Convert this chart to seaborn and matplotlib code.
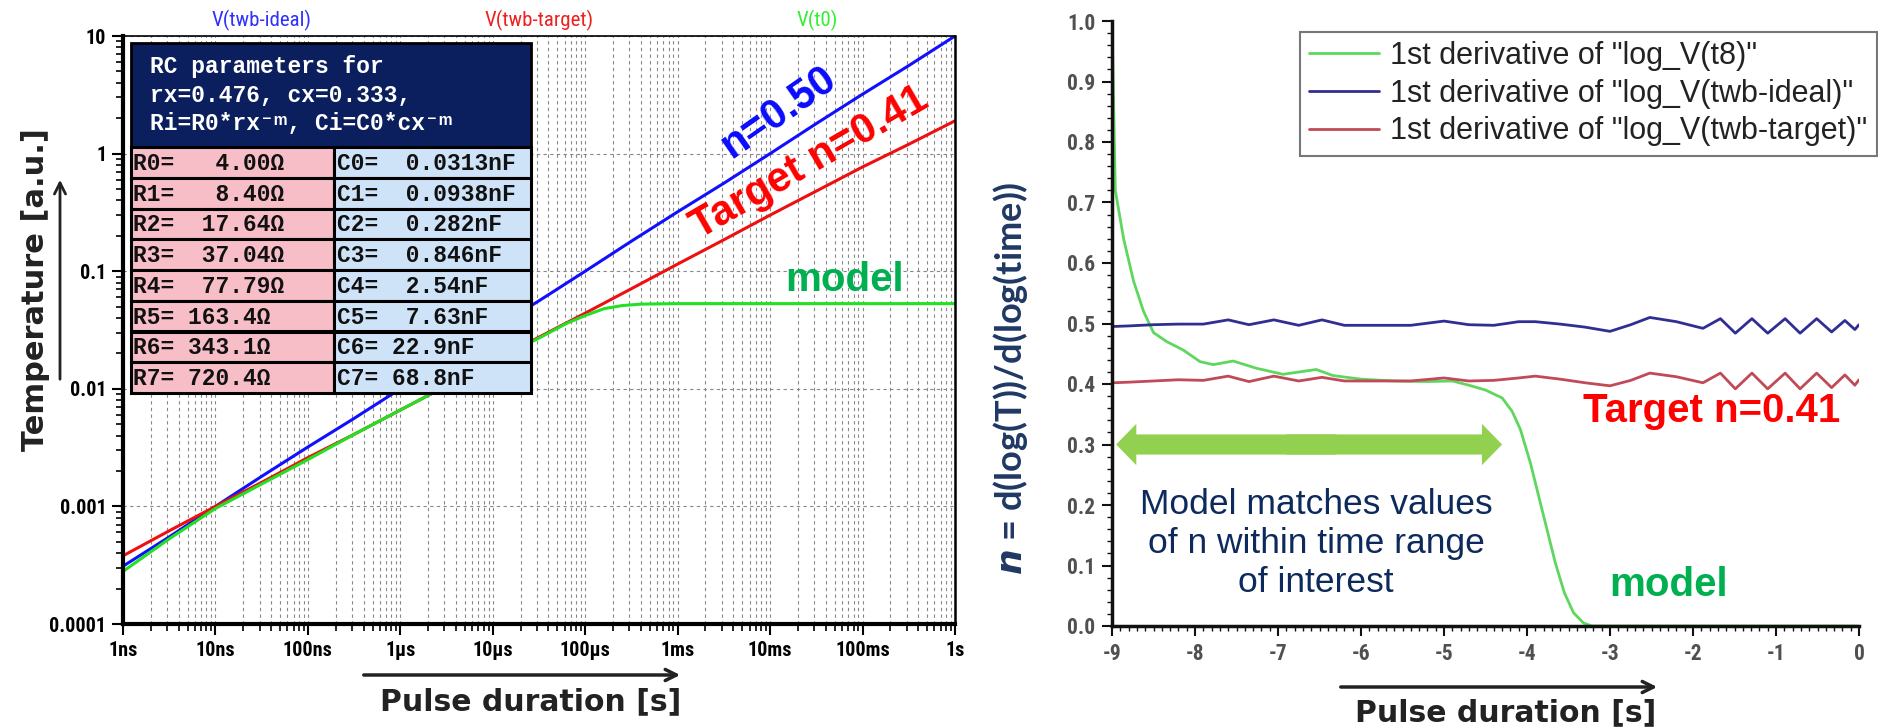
import numpy as np
import pandas as pd
import matplotlib
matplotlib.use("Agg")
import matplotlib.pyplot as plt
import seaborn as sns
from matplotlib.patches import Rectangle, FancyArrowPatch
from matplotlib.ticker import LogLocator, MultipleLocator, NullFormatter
from matplotlib import font_manager

# ---- left panel: simulated temperature vs pulse duration ----
t_left = [1e-9, 3.16e-9, 1e-8, 3.16e-8, 1e-7, 3.16e-7, 1e-6, 3.16e-6, 1e-5, 3.16e-5,
          1e-4, 3.16e-4, 1e-3, 3.16e-3, 1e-2, 3.16e-2, 0.1, 0.316, 1.0]
v_ideal = [3.1e-4, 5.5e-4, 1.0e-3, 1.8e-3, 3.2e-3, 5.6e-3, 1.0e-2, 1.8e-2, 3.2e-2, 5.6e-2,
           0.1, 0.18, 0.32, 0.56, 1.0, 1.8, 3.2, 5.6, 10.0]
v_target = [3.8e-4, 6.2e-4, 1.0e-3, 1.6e-3, 2.6e-3, 4.1e-3, 6.6e-3, 1.06e-2, 1.7e-2, 2.75e-2,
            4.4e-2, 7.1e-2, 0.115, 0.185, 0.30, 0.48, 0.77, 1.2, 1.9]
t_model = [1e-9, 1e-9, 3.16e-9, 1e-8, 3.16e-8, 1e-7, 3.16e-7, 1e-6, 3.16e-6, 1e-5, 3.16e-5,
           6.3e-5, 1e-4, 1.6e-4, 2.5e-4, 4e-4, 1e-3, 1.0]
v_model = [1e-4, 2.8e-4, 5.3e-4, 9.6e-4, 1.55e-3, 2.5e-3, 4.1e-3, 6.6e-3, 1.06e-2, 1.7e-2, 2.7e-2,
           3.6e-2, 4.2e-2, 4.8e-2, 5.1e-2, 5.25e-2, 5.3e-2, 5.3e-2]

x_ticks = [1e-9, 1e-8, 1e-7, 1e-6, 1e-5, 1e-4, 1e-3, 1e-2, 1e-1, 1.0]
x_ticklabels = ["1ns", "10ns", "100ns", "1µs", "10µs", "100µs", "1ms", "10ms", "100ms", "1s"]
y_ticks = [1e-4, 1e-3, 1e-2, 1e-1, 1.0, 10.0]
y_ticklabels = ["0.0001", "0.001", "0.01", "0.1", "1", "10"]

r_names = ["R0", "R1", "R2", "R3", "R4", "R5", "R6", "R7"]
r_values = ["  4.00Ω", "  8.40Ω", " 17.64Ω", " 37.04Ω", " 77.79Ω", "163.4Ω", "343.1Ω", "720.4Ω"]
c_names = ["C0", "C1", "C2", "C3", "C4", "C5", "C6", "C7"]
c_values = [" 0.0313nF", " 0.0938nF", " 0.282nF", " 0.846nF", " 2.54nF", " 7.63nF", "22.9nF", "68.8nF"]
header_lines = ["RC parameters for", "rx=0.476, cx=0.333,", "Ri=R0*rx⁻ᵐ, Ci=C0*cx⁻ᵐ"]

# ---- right panel: log derivative n ----
x_model = [-9.0, -8.96, -8.86, -8.74, -8.62, -8.5, -8.34, -8.14, -7.94, -7.78, -7.54, -7.26,
           -6.94, -6.54, -6.34, -6.0, -5.6, -5.2, -4.9, -4.7, -4.5, -4.3, -4.18, -4.08, -3.96,
           -3.86, -3.76, -3.66, -3.55, -3.44, -3.32, -3.22, 0.0]
n_model = [1.0, 0.72, 0.64, 0.57, 0.52, 0.485, 0.47, 0.456, 0.437, 0.432, 0.438, 0.426,
           0.416, 0.424, 0.414, 0.408, 0.405, 0.404, 0.405, 0.398, 0.39, 0.377, 0.355, 0.325, 0.27,
           0.215, 0.16, 0.105, 0.055, 0.022, 0.005, 0.0, 0.0]
x_ref = [-9.0, -9.0, -8.8, -8.5, -8.2, -7.9, -7.6, -7.35, -7.05, -6.75, -6.47, -6.2, -5.8, -5.4,
         -5.0, -4.7, -4.4, -4.1, -3.9, -3.6, -3.3, -3.0, -2.75, -2.52, -2.2, -1.88, -1.67, -1.49,
         -1.29, -1.10, -0.89, -0.71, -0.51, -0.33, -0.17, -0.05, 0.0]
n_ideal = [0.745, 0.495, 0.496, 0.498, 0.499, 0.499, 0.506, 0.498, 0.506, 0.497, 0.506, 0.497,
           0.497, 0.497, 0.504, 0.498, 0.497, 0.503, 0.503, 0.499, 0.494, 0.487, 0.498, 0.510,
           0.503, 0.492, 0.508, 0.484, 0.508, 0.484, 0.508, 0.484, 0.508, 0.486, 0.505, 0.490, 0.498]
n_target = [0.71, 0.402, 0.403, 0.405, 0.407, 0.406, 0.413, 0.404, 0.413, 0.405, 0.411, 0.405,
            0.405, 0.405, 0.41, 0.405, 0.406, 0.41, 0.413, 0.408, 0.402, 0.397, 0.406, 0.418,
            0.412, 0.402, 0.418, 0.392, 0.418, 0.392, 0.418, 0.392, 0.418, 0.394, 0.415, 0.398, 0.407]
legend_labels = ['1st derivative of "log_V(t8)"', '1st derivative of "log_V(twb-ideal)"',
                 '1st derivative of "log_V(twb-target)"']

sns.set_theme(style="white")
installed = {f.name for f in font_manager.fontManager.ttflist}
narrow = [f for f in ["Liberation Sans Narrow", "Roboto Condensed", "Open Sans Condensed",
                      "Arial Narrow"] if f in installed] + ["Liberation Sans", "DejaVu Sans"]
plt.rcParams["font.family"] = ["Liberation Sans", "DejaVu Sans"]
mono = ["Liberation Mono", "DejaVu Sans Mono"]
label_font = ["DejaVu Sans"]
ylab_font = [f for f in ["Lato", "Open Sans"] if f in installed] + ["DejaVu Sans"]

W, H = 1878, 727
fig = plt.figure(figsize=(W / 100, H / 100), dpi=100)
fig.patch.set_facecolor("white")


def fx(px):
    return px / W


def fy(py):
    return 1 - py / H


def fig_arrow(x0, y0, x1, y1, lw):
    fig.add_artist(FancyArrowPatch((fx(x0), fy(y0)), (fx(x1), fy(y1)), transform=fig.transFigure,
                                   arrowstyle="->,head_length=8,head_width=4", color="#222222", lw=lw))


# ================= left panel =================
ax1 = fig.add_axes([fx(123), fy(624), (955 - 123) / W, (624 - 36) / H])
ax1.set_xscale("log")
ax1.set_yscale("log")
sns.lineplot(x=t_left, y=v_ideal, ax=ax1, color="#1010ff", lw=2.2, estimator=None, sort=False)
sns.lineplot(x=t_left, y=v_target, ax=ax1, color="#ee1010", lw=2.2, estimator=None, sort=False)
sns.lineplot(x=t_model, y=v_model, ax=ax1, color="#22e022", lw=2.2, estimator=None, sort=False)
ax1.set_xlim(1e-9, 1.0)
ax1.set_ylim(1e-4, 10.0)
ax1.set_xticks(x_ticks)
ax1.set_xticklabels(x_ticklabels)
ax1.set_yticks(y_ticks)
ax1.set_yticklabels(y_ticklabels)
ax1.xaxis.set_minor_locator(LogLocator(base=10, subs=np.arange(2, 10)))
ax1.yaxis.set_minor_locator(LogLocator(base=10, subs=np.arange(2, 10)))
ax1.xaxis.set_minor_formatter(NullFormatter())
ax1.yaxis.set_minor_formatter(NullFormatter())
ax1.grid(which="both", axis="x", color="#888888", ls=(0, (3, 3)), lw=0.8)
ax1.grid(which="major", axis="y", color="#888888", ls=(0, (3, 3)), lw=0.8)
ax1.tick_params(which="major", direction="out", length=8, width=1.5, color="black",
                bottom=True, left=True, pad=4)
ax1.tick_params(which="minor", direction="out", length=5, width=1.2, color="black",
                bottom=True, left=True)
for lab in ax1.get_xticklabels() + ax1.get_yticklabels():
    lab.set_fontfamily(narrow)
    lab.set_fontweight("bold")
    lab.set_fontsize(14.5)
    lab.set_color("black")
for side, lw in [("left", 3), ("bottom", 3), ("top", 1.2), ("right", 1.8)]:
    ax1.spines[side].set_visible(True)
    ax1.spines[side].set_color("black")
    ax1.spines[side].set_linewidth(lw)

# series names above the plot
for txt, col, cx in [("V(twb-ideal)", "#3030ff", 262), ("V(twb-target)", "#ee2020", 539),
                     ("V(t0)", "#33ee33", 817)]:
    fig.text(fx(cx), fy(20), txt, color=col, fontsize=15, family=narrow, ha="center", va="center")

# RC parameter table
fig.add_artist(Rectangle((fx(131), fy(147)), (531 - 131) / W, (147 - 43) / H,
                         transform=fig.transFigure, facecolor="#0b1f5e", edgecolor="black", lw=2))
for k, line in enumerate(header_lines):
    fig.text(fx(150), fy(67 + k * 28.5), line, color="white", fontsize=16.5, family=mono,
             fontweight="bold", ha="left", va="center")
row_h = 30.75
for i in range(len(r_names)):
    y0 = 147 + i * row_h
    fig.add_artist(Rectangle((fx(131), fy(y0 + row_h)), (334 - 131) / W, row_h / H,
                             transform=fig.transFigure, facecolor="#f7bec8", edgecolor="black", lw=2.2))
    fig.add_artist(Rectangle((fx(334), fy(y0 + row_h)), (531 - 334) / W, row_h / H,
                             transform=fig.transFigure, facecolor="#cfe3f8", edgecolor="black", lw=2.2))
    fig.text(fx(133), fy(y0 + row_h / 2 + 1), f"{r_names[i]}= {r_values[i]}", fontsize=16.5,
             family=mono, fontweight="bold", color="#111111", ha="left", va="center")
    fig.text(fx(337), fy(y0 + row_h / 2 + 1), f"{c_names[i]}= {c_values[i]}", fontsize=16.5,
             family=mono, fontweight="bold", color="#111111", ha="left", va="center")

# slope annotations
fig.text(fx(778), fy(112), "n=0.50", color="#0a0aff", fontsize=30, fontweight="bold",
         rotation=35, ha="center", va="center", rotation_mode="anchor")
fig.text(fx(810), fy(163), "Target n=0.41", color="#ff0000", fontsize=30, fontweight="bold",
         rotation=30, ha="center", va="center", rotation_mode="anchor")
fig.text(fx(845), fy(280), "model", color="#00b050", fontsize=29, fontweight="bold",
         ha="center", va="center")

# axis titles with arrows
fig.text(fx(36), fy(290), "Temperature [a.u.]", rotation=90, fontsize=22, fontweight="bold",
         family=label_font, color="#222222", ha="center", va="center")
fig_arrow(60, 382, 60, 177, 2)
fig.text(fx(531), fy(702), "Pulse duration [s]", fontsize=21.5, fontweight="bold",
         family=label_font, color="#222222", ha="center", va="center")
fig_arrow(361, 675, 683, 675, 2.5)

# ================= right panel =================
ax2 = fig.add_axes([fx(1112), fy(626), (1859 - 1112) / W, (626 - 21) / H])
sns.lineplot(x=x_model, y=n_model, ax=ax2, color="#5fd75f", lw=2, estimator=None, sort=False,
             label=legend_labels[0])
sns.lineplot(x=x_ref, y=n_ideal, ax=ax2, color="#2f2f93", lw=2, estimator=None, sort=False,
             label=legend_labels[1])
sns.lineplot(x=x_ref, y=n_target, ax=ax2, color="#c04a58", lw=2, estimator=None, sort=False,
             label=legend_labels[2])
ax2.set_xlim(-9, 0)
ax2.set_ylim(0, 1.0)
ax2.set_xticks(np.arange(-9, 1, 1))
ax2.set_yticks(np.arange(0, 1.01, 0.1))
ax2.set_xticklabels([str(v) for v in range(-9, 1)])
ax2.set_yticklabels([f"{v:.1f}" for v in np.arange(0, 1.01, 0.1)])
ax2.xaxis.set_minor_locator(MultipleLocator(0.1))
ax2.yaxis.set_minor_locator(MultipleLocator(0.02))
ax2.tick_params(which="major", direction="out", length=7, width=1.5, color="#111111",
                bottom=True, left=True, pad=5)
ax2.tick_params(which="minor", direction="out", length=3.5, width=1, color="#111111",
                bottom=True, left=True)
for lab in ax2.get_xticklabels() + ax2.get_yticklabels():
    lab.set_fontfamily(narrow)
    lab.set_fontsize(15.5)
    lab.set_fontweight("bold")
    lab.set_color("#505050")
for side in ["top", "right"]:
    ax2.spines[side].set_visible(False)
for side in ["left", "bottom"]:
    ax2.spines[side].set_color("#111111")
    ax2.spines[side].set_linewidth(2.5)

leg = ax2.legend(loc="upper right", bbox_to_anchor=(1.0235, 0.982), borderaxespad=0,
                 handlelength=2.3, handletextpad=0.35, labelspacing=0.25,
                 fancybox=False, frameon=True, borderpad=0.3,
                 prop={"family": ["Liberation Sans", "DejaVu Sans"], "size": 22})
leg.get_frame().set_edgecolor("#555555")
leg.get_frame().set_linewidth(1.5)
for t in leg.get_texts():
    t.set_color("#222222")

# double-headed arrow for the time range of interest (two overlapping halves)
arrow_style = "simple,head_length=1.0,head_width=2.05,tail_width=1.0"
for end, start in ((-8.95, -6.3), (-4.3, -6.9)):
    ax2.annotate("", xy=(end, 0.3), xytext=(start, 0.3),
                 arrowprops=dict(arrowstyle=arrow_style, mutation_scale=14.5, color="#92d050",
                                 lw=0, shrinkA=0, shrinkB=0))

ax2.text(-6.54, 0.136, "Model matches values\nof n within time range\nof interest", fontsize=25.5,
         color="#0d2a5c", ha="center", va="center", linespacing=1.22)
ax2.text(-1.78, 0.355, "Target n=0.41", fontsize=29, fontweight="bold", color="#ff0000",
         ha="center", va="center")
ax2.text(-2.29, 0.068, "model", fontsize=29, fontweight="bold", color="#00b050",
         ha="center", va="center")

fig.text(fx(1010), fy(378), r"$\mathbfit{n}$ = d(log(T))/d(log(time))", rotation=90, fontsize=26,
         fontweight="bold", family=ylab_font, color="#1f3864", ha="center", va="center")
fig.text(fx(1506), fy(713), "Pulse duration [s]", fontsize=21.5, fontweight="bold",
         family=label_font, color="#222222", ha="center", va="center")
fig_arrow(1338, 687, 1660, 687, 2.5)

fig.savefig("out.png", dpi=100, facecolor="white")
